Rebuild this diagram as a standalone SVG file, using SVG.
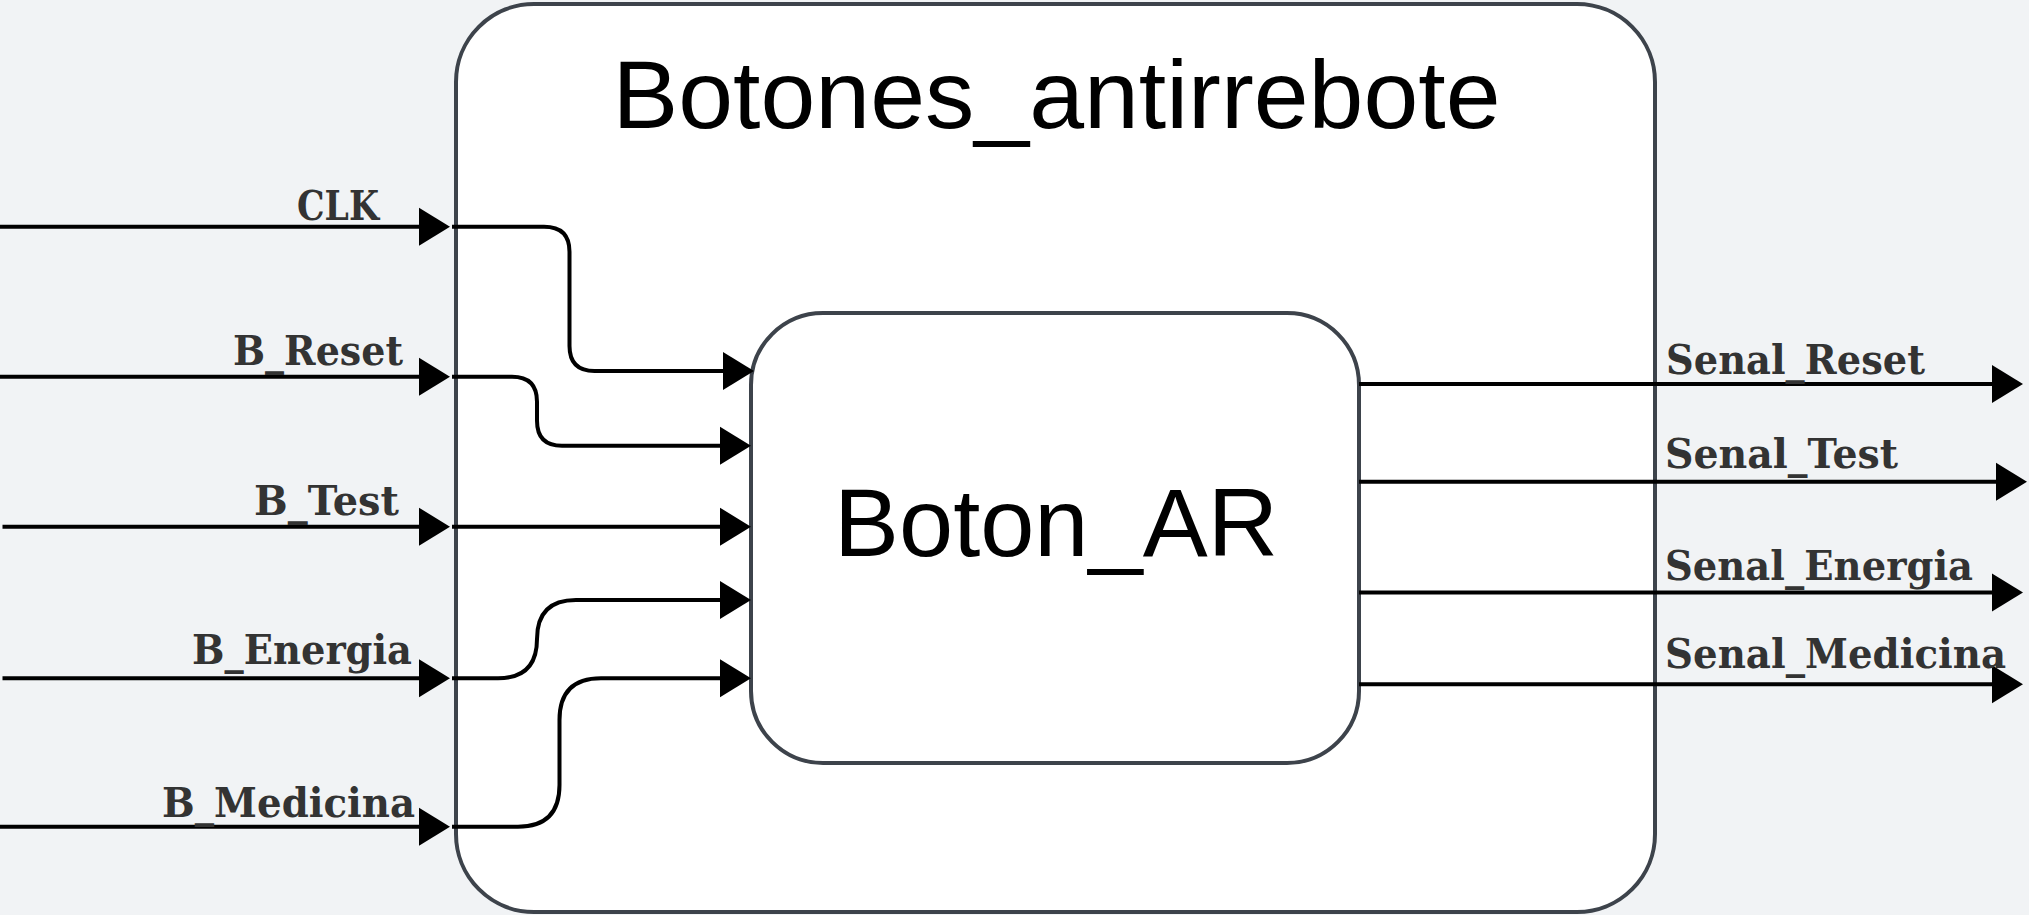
<svg xmlns="http://www.w3.org/2000/svg" width="2029" height="915" viewBox="0 0 2029 915">
<style>
.box{fill:#ffffff;stroke:#3d434b;stroke-width:4}
.title{font-family:"Liberation Sans",Arial,sans-serif;fill:#000;text-anchor:middle}
.lbl{font-family:"DejaVu Serif","Liberation Serif",serif;font-size:41px;font-weight:bold;fill:#333333}
.l{text-anchor:end}
.w{fill:none;stroke:#000;stroke-width:4;marker-end:url(#arr)}
</style>
<defs>
<marker id="arr" markerUnits="userSpaceOnUse" markerWidth="31" markerHeight="38" refX="21" refY="19" orient="auto" overflow="visible">
<path d="M0,0 L31,19 L0,38 Z" fill="#000"/>
</marker>
</defs>
<rect x="0" y="0" width="2029" height="915" fill="#f1f3f5"/>
<g id="Botones_antirrebote">
<rect class="box" x="456" y="4" width="1199" height="908" rx="78" ry="78"/>
<text class="title" x="1056.5" y="128" font-size="97" textLength="888" lengthAdjust="spacingAndGlyphs">Botones_antirrebote</text>
</g>
<g id="Boton_AR">
<rect class="box" x="751" y="313" width="608" height="450" rx="72" ry="72"/>
<text class="title" x="1056" y="556" font-size="96" textLength="444" lengthAdjust="spacingAndGlyphs">Boton_AR</text>
</g>
<g id="connectors">
<path class="w" d="M0,226.7 H440"/>
<path class="w" d="M452,226.7 H544 Q569.5,226.7 569.5,251.7 V346 Q569.5,371 594.5,371 H744"/>
<path class="w" d="M0,376.7 H440"/>
<path class="w" d="M452,376.7 H512 Q537,376.7 537,401.7 V420.7 Q537,445.7 562,445.7 H741"/>
<path class="w" d="M2.5,526.7 H440"/>
<path class="w" d="M452,526.7 H741"/>
<path class="w" d="M2.5,678.3 H440"/>
<path class="w" d="M452,678.3 H498 Q537,678.3 537,639 Q537,600 576,600 H741"/>
<path class="w" d="M0,826.7 H440"/>
<path class="w" d="M452,826.7 H518 Q559.5,826.7 559.5,785 V720 Q559.5,678.3 601,678.3 H741"/>
<path class="w" d="M1359,384 H2013"/>
<path class="w" d="M1359,481.7 H2017"/>
<path class="w" d="M1359,592.5 H2013"/>
<path class="w" d="M1359,684.3 H2013"/>
</g>
<g id="labels">
<text class="lbl l" x="379" y="220" textLength="82" lengthAdjust="spacingAndGlyphs">CLK</text>
<text class="lbl l" x="403" y="365" textLength="170" lengthAdjust="spacingAndGlyphs">B_Reset</text>
<text class="lbl l" x="399" y="515" textLength="145" lengthAdjust="spacingAndGlyphs">B_Test</text>
<text class="lbl l" x="412" y="664" textLength="220" lengthAdjust="spacingAndGlyphs">B_Energia</text>
<text class="lbl l" x="415" y="817" textLength="253" lengthAdjust="spacingAndGlyphs">B_Medicina</text>
<text class="lbl" x="1666" y="374" textLength="259" lengthAdjust="spacingAndGlyphs">Senal_Reset</text>
<text class="lbl" x="1665" y="468.3" textLength="233" lengthAdjust="spacingAndGlyphs">Senal_Test</text>
<text class="lbl" x="1665" y="580" textLength="308" lengthAdjust="spacingAndGlyphs">Senal_Energia</text>
<text class="lbl" x="1665" y="668.3" textLength="341" lengthAdjust="spacingAndGlyphs">Senal_Medicina</text>
</g>
</svg>
